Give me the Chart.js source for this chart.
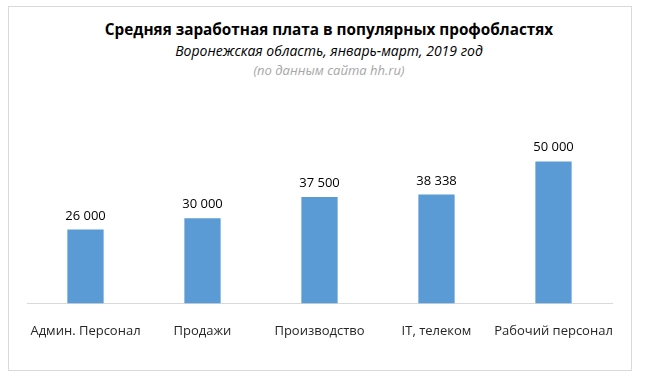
<!DOCTYPE html>
<html lang="ru">
<head>
    <meta charset="UTF-8">
    <title>Средняя заработная плата</title>
    <script src="https://cdn.jsdelivr.net/npm/chart.js"></script>
    <style>
        html, body { margin: 0; padding: 0; background: #fff; }
        .frame {
            position: relative;
            width: 648px;
            height: 386px;
            font-family: "Open Sans", "Noto Sans", sans-serif;
        }
        .caixa {
            position: absolute;
            left: 8px; top: 6px;
            width: 622px; height: 363px;
            border: 1px solid #d9d9d9;
        }
        .titulo {
            position: absolute;
            left: 0; width: 658px;
            text-align: center;
            white-space: nowrap;
        }
        #t1 { top: 19px; font-size: 15.3px; font-weight: bold; color: #000; }
        #t2 { top: 41px; font-size: 14px; font-style: italic; color: #000; }
        #t3 { top: 61px; font-size: 13px; font-style: italic; color: #a6a6a6; }
        #grafico { position: absolute; left: 0; top: 0; }
    </style>
</head>
<body>
    <div class="frame">
        <div class="caixa"></div>
        <div class="titulo" id="t1">Средняя заработная плата в популярных профобластях</div>
        <div class="titulo" id="t2">Воронежская область, январь-март, 2019 год</div>
        <div class="titulo" id="t3">(по данным сайта hh.ru)</div>
        <canvas id="grafico" width="648" height="386"></canvas>
    </div>

<script>
    // dados do gráfico
    const categorias = ['Админ. Персонал', 'Продажи', 'Производство', 'IT, телеком', 'Рабочий персонал'];
    const salarios = [26000, 30000, 37500, 38338, 50000];

    // formata 26000 -> "26 000"
    function formatar(v) {
        return String(v).replace(/\B(?=(\d{3})+(?!\d))/g, ' ');
    }

    // escreve o valor em cima de cada barra
    const rotulosBarras = {
        id: 'rotulosBarras',
        afterDatasetsDraw(chart) {
            const ctx = chart.ctx;
            const meta = chart.getDatasetMeta(0);
            ctx.save();
            ctx.font = '13px "Open Sans", sans-serif';
            ctx.fillStyle = '#000';
            ctx.textAlign = 'center';
            ctx.textBaseline = 'alphabetic';
            meta.data.forEach((barra, i) => {
                ctx.fillText(formatar(salarios[i]), barra.x, barra.y - 10);
            });
            ctx.restore();
        }
    };

    const grafico = document.getElementById('grafico');
    new Chart(grafico, {
        type: 'bar',
        data: {
            labels: categorias,
            datasets: [{
                data: salarios,
                backgroundColor: '#5b9bd5',
                categoryPercentage: 1,
                barPercentage: 0.31
            }]
        },
        options: {
            responsive: false,
            animation: false,
            layout: {
                padding: { top: 133, left: 27, right: 36, bottom: 35 }
            },
            plugins: {
                legend: { display: false },
                tooltip: { enabled: false }
            },
            scales: {
                x: {
                    grid: { display: false },
                    border: { display: true, color: '#d9d9d9', width: 1 },
                    ticks: {
                        color: '#262626',
                        padding: 12,
                        maxRotation: 0,
                        autoSkip: false,
                        font: { family: '"Open Sans", sans-serif', size: 13 }
                    }
                },
                y: {
                    display: false,
                    min: 0,
                    max: 60000
                }
            }
        },
        plugins: [rotulosBarras]
    });
</script>
</body>
</html>
